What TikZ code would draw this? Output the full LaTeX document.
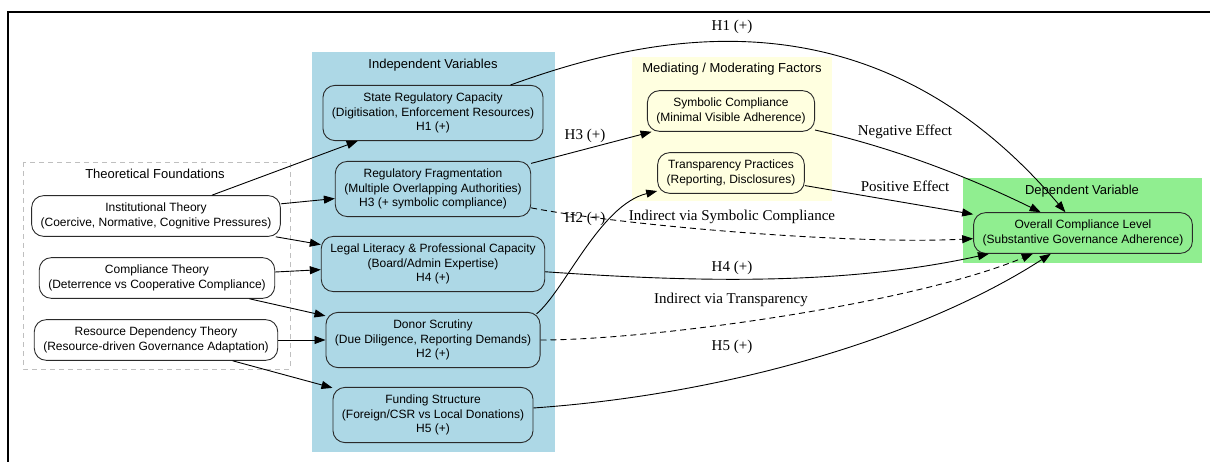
\documentclass[tikz,border=0pt]{standalone}
\usepackage{fontspec}
\setmainfont{Liberation Serif}
\setsansfont{Liberation Sans}
\usetikzlibrary{arrows.meta}
\definecolor{ivblue}{HTML}{ADD8E6}
\definecolor{medyellow}{HTML}{FFFFE0}
\definecolor{depgreen}{HTML}{90EE90}
\definecolor{boxline}{HTML}{2A2A2A}
\begin{document}
\begin{tikzpicture}[x=1pt,y=-1pt,line width=0.9pt,
    varbox/.style={draw=boxline,rounded corners=12pt,align=center,
      inner xsep=9pt,inner ysep=7.5pt,font=\sffamily\fontsize{12}{14.5}\selectfont},
    grouptitle/.style={font=\sffamily\fontsize{13}{15}\selectfont},
    edgelab/.style={font=\fontsize{15}{18}\selectfont,inner sep=1pt},
    indirect/.style={dash pattern=on 6pt off 4pt}]
  \useasboundingbox (0,0) rectangle (1210,462);
  \draw[line width=2.5pt] (8,462) -- (8,12) -- (1210,12);
  \fill[ivblue] (312,52) rectangle (555,452);
  \fill[medyellow] (632,57) rectangle (832,201);
  \fill[depgreen] (963,178) rectangle (1202,263);
  \draw[gray!50,line width=0.8pt,dash pattern=on 5pt off 4pt] (23,162) rectangle (290,369);
  \draw
    (155,174) node[grouptitle] (tf) {Theoretical Foundations}
    (433,65) node[grouptitle] (iv) {Independent Variables}
    (732,69) node[grouptitle] (mm) {Mediating / Moderating Factors}
    (1082,191) node[grouptitle] (dv) {Dependent Variable}
    (156,216) node[varbox] (inst) {Institutional Theory\\(Coercive, Normative, Cognitive Pressures)}
    (157,278) node[varbox] (comp) {Compliance Theory\\(Deterrence vs Cooperative Compliance)}
    (156,340) node[varbox] (resdep) {Resource Dependency Theory\\(Resource-driven Governance Adaptation)}
    (433,113) node[varbox] (state) {State Regulatory Capacity\\(Digitisation, Enforcement Resources)\\H1 (+)}
    (433,189) node[varbox] (regfrag) {Regulatory Fragmentation\\(Multiple Overlapping Authorities)\\H3 (+ symbolic compliance)}
    (433,264) node[varbox] (legal) {Legal Literacy \& Professional Capacity\\(Board/Admin Expertise)\\H4 (+)}
    (433,340) node[varbox] (donor) {Donor Scrutiny\\(Due Diligence, Reporting Demands)\\H2 (+)}
    (433,415) node[varbox] (funding) {Funding Structure\\(Foreign/CSR vs Local Donations)\\H5 (+)}
    (731,111) node[varbox] (symb) {Symbolic Compliance\\(Minimal Visible Adherence)}
    (731,173) node[varbox] (transp) {Transparency Practices\\(Reporting, Disclosures)}
    (1083,233) node[varbox] (overall) {Overall Compliance Level\\(Substantive Governance Adherence)};
  \draw
    (732,27) node[edgelab] (lh1) {H1 (+)}
    (585,136) node[edgelab] (lh3) {H3 (+)}
    (585,219) node[edgelab] (lh2) {H2 (+)}
    (732,217) node[edgelab] (lsym) {Indirect via Symbolic Compliance}
    (905,132) node[edgelab] (lneg) {Negative Effect}
    (905,186) node[edgelab] (lpos) {Positive Effect}
    (732,268) node[edgelab] (lh4) {H4 (+)}
    (731,300) node[edgelab] (ltra) {Indirect via Transparency}
    (732,347) node[edgelab] (lh5) {H5 (+)};
  \begin{scope}[-{Triangle[length=11pt,width=8pt]}]
    \draw (inst) to (state);
    \draw (inst) to (regfrag);
    \draw (inst) to (legal);
    \draw (comp) to (legal);
    \draw (comp) to (donor);
    \draw (resdep) to (donor);
    \draw (resdep) to (funding);
    \draw (state) .. controls (646,36) and (870,-18) .. (overall);
    \draw (regfrag) to (symb);
    \draw[indirect] (regfrag) .. controls (620,225) and (850,245) .. (overall);
    \draw (legal) .. controls (693,282) and (843,286) .. (overall);
    \draw ([xshift=-4pt,yshift=-2pt]donor.north east) .. controls (565,290) and (600,205) .. (transp);
    \draw[indirect] (donor) .. controls (650,340) and (909,305) .. (overall);
    \draw (funding) .. controls (733,394) and (925,335) .. (overall);
    \draw (symb) .. controls (899,149) and (975,180) .. (overall);
    \draw (transp) to (overall);
  \end{scope}
\end{tikzpicture}
\end{document}
